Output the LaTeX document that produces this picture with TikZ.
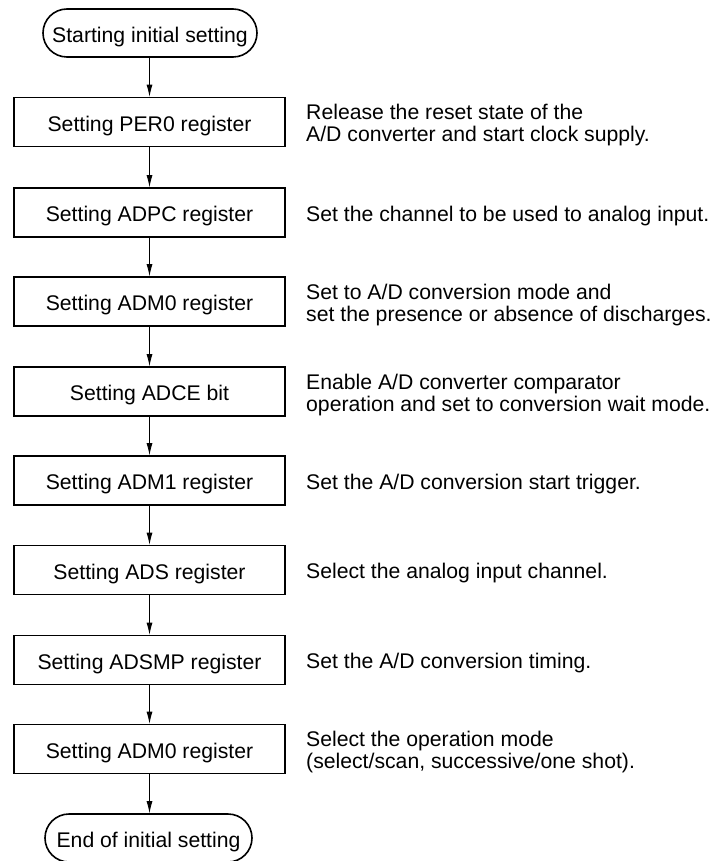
\documentclass[tikz,border=0pt]{standalone}
\usepackage{fontspec}
\setmainfont{Liberation Sans}
\usetikzlibrary{arrows.meta}
\begin{document}
\begin{tikzpicture}[x=1pt,y=-1pt,
  every node/.style={font=\fontsize{21.2}{22}\selectfont, inner sep=0pt},
  term/.style={draw, line width=1.6pt, minimum height=48pt, rounded corners=24pt, text height=18.5pt, text depth=0pt},
  stepbox/.style={draw, line width=1.6pt, minimum width=271pt, minimum height=49pt, text height=18.5pt, text depth=0pt},
  note/.style={anchor=west, align=left, yshift=-3.5pt},
  flow/.style={line width=0.8pt, -{Latex[length=12pt,width=6pt]}}]
\useasboundingbox (0,0) rectangle (714,861);
\node[term, minimum width=214pt] (s) at (150,33) {Starting initial setting};
\node[stepbox] (b1) at (149.5,122) {Setting PER0 register};
\node[stepbox] (b2) at (149.5,212.5) {Setting ADPC register};
\node[stepbox] (b3) at (149.5,301.5) {Setting ADM0 register};
\node[stepbox] (b4) at (149.5,391.5) {Setting ADCE bit};
\node[stepbox] (b5) at (149.5,480.5) {Setting ADM1 register};
\node[stepbox] (b6) at (149.5,570) {Setting ADS register};
\node[stepbox] (b7) at (149.5,660) {Setting ADSMP register};
\node[stepbox] (b8) at (149.5,749) {Setting ADM0 register};
\node[term, minimum width=207pt] (e) at (148.5,838) {End of initial setting};
\node[note] (n1) at (306,122) {Release the reset state of the\\A/D converter and start clock supply.};
\node[note] (n2) at (306,212.5) {Set the channel to be used to analog input.};
\node[note] (n3) at (306,301.5) {Set to A/D conversion mode and\\set the presence or absence of discharges.};
\node[note] (n4) at (306,391.5) {Enable A/D converter comparator\\operation and set to conversion wait mode.};
\node[note] (n5) at (306,480.5) {Set the A/D conversion start trigger.};
\node[note] (n6) at (306,570) {Select the analog input channel.};
\node[note] (n7) at (306,660) {Set the A/D conversion timing.};
\node[note] (n8) at (306,749) {Select the operation mode\\(select/scan, successive/one shot).};
\draw[flow] (s.south -| b1.north) -- (b1.north);
\draw[flow] (b1) -- (b2);
\draw[flow] (b2) -- (b3);
\draw[flow] (b3) -- (b4);
\draw[flow] (b4) -- (b5);
\draw[flow] (b5) -- (b6);
\draw[flow] (b6) -- (b7);
\draw[flow] (b7) -- (b8);
\draw[flow] (b8.south) -- (b8.south |- e.north);
\end{tikzpicture}
\end{document}
